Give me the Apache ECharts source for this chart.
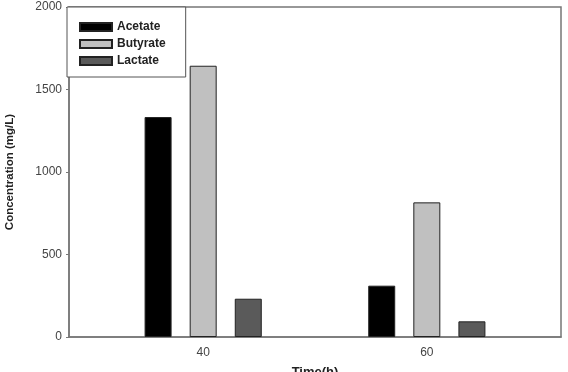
<!DOCTYPE html>
<html>
<head>
<meta charset="utf-8">
<script src="https://cdn.jsdelivr.net/npm/echarts@6/dist/echarts.min.js"></script>
<style>
  html, body { margin: 0; padding: 0; background: #fff; }
  #chart { width: 568px; height: 372px; }
</style>
</head>
<body>
<div id="chart"></div>
<script>
const chart = echarts.init(document.getElementById('chart'))

// time points (h)
const times = [40, 60]
const acetate = [1333, 311]
const butyrate = [1644, 816]
const lactate = [232, 95]
const yTicks = [0, 500, 1000, 1500, 2000]

const font = 'Liberation Sans, Arial, sans-serif'

function pairs(vals) {
  return times.map((t, i) => [t, vals[i]])
}

function barSeries(name, vals, color) {
  return {
    name: name,
    type: 'bar',
    data: pairs(vals),
    barWidth: 27,
    barGap: '67%',
    itemStyle: { color: color, borderColor: '#222', borderWidth: 1 },
  }
}

const option = {
  animation: false,
  backgroundColor: '#fff',
  grid: {
    left: 69,
    right: 7,
    top: 7,
    bottom: 35,
    outerBoundsMode: 'none',
    show: true,
    borderColor: '#777',
    borderWidth: 1.5,
  },
  legend: {
    orient: 'vertical',
    left: 67,
    top: 7,
    padding: [14, 20, 10, 12],
    icon: 'rect',
    itemWidth: 32,
    itemHeight: 8,
    itemGap: 5,
    itemTextGap: 8,
    borderColor: '#555',
    borderWidth: 1,
    backgroundColor: '#fff',
    textStyle: { fontFamily: font, fontWeight: 'bold', fontSize: 12, color: '#222' },
    data: ['Acetate', 'Butyrate', 'Lactate'],
  },
  xAxis: {
    type: 'value',
    min: 28,
    max: 72,
    name: 'Time(h)',
    nameLocation: 'middle',
    nameGap: 29,
    nameTextStyle: { fontFamily: font, fontWeight: 'bold', fontSize: 13, color: '#222' },
    splitLine: { show: false },
    axisLine: { show: true, lineStyle: { color: '#777', width: 1.5 } },
    axisTick: { show: false },
    axisLabel: {
      customValues: times,
      fontFamily: font,
      fontSize: 12,
      color: '#444',
      margin: 10,
    },
  },
  yAxis: {
    type: 'value',
    min: 0,
    max: 2000,
    interval: 500,
    name: 'Concentration (mg/L)',
    nameLocation: 'middle',
    nameGap: 53,
    nameTextStyle: { fontFamily: font, fontWeight: 'bold', fontSize: 11.5, color: '#222' },
    splitLine: { show: false },
    axisLine: { show: true, lineStyle: { color: '#777', width: 1.5 } },
    axisTick: { show: true, length: 3, lineStyle: { color: '#777' } },
    axisLabel: {
      fontFamily: font,
      fontSize: 12,
      color: '#444',
      margin: 7,
      formatter: (v) => (yTicks.includes(v) ? String(v) : ''),
    },
  },
  series: [
    barSeries('Acetate', acetate, '#000'),
    barSeries('Butyrate', butyrate, '#c0c0c0'),
    barSeries('Lactate', lactate, '#5a5a5a'),
  ],
}

chart.setOption(option)
</script>
</body>
</html>
